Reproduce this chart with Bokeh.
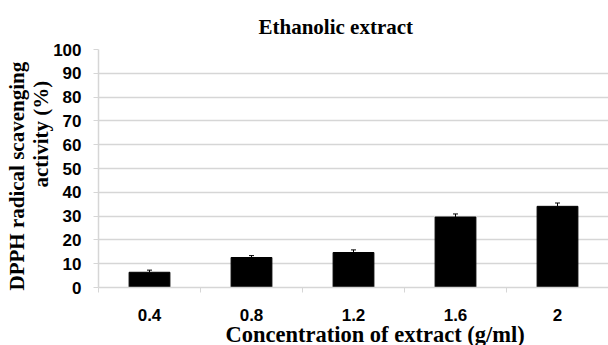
import numpy as np
from bokeh.plotting import figure
from bokeh.models import Range1d, FixedTicker, Whisker, TeeHead, ColumnDataSource, Title
from bokeh.embed import file_html
from bokeh.resources import INLINE

categories = ["0.4", "0.8", "1.2", "1.6", "2"]
activity = [6.4, 12.6, 14.7, 29.6, 34.1]
errors = [0.9, 0.8, 1.1, 1.3, 1.4]
y_ticks = list(range(0, 101, 10))

xpos = np.arange(len(categories)) + 0.5
upper = np.array(activity) + np.array(errors)

src = ColumnDataSource(dict(x=xpos, top=activity, upper=upper))

p = figure(width=608, height=345, output_backend="svg", toolbar_location=None,
           x_range=Range1d(0, len(categories)), y_range=Range1d(0, 100),
           min_border_left=98, min_border_right=0, min_border_top=49, min_border_bottom=58)
p.outline_line_color = None
p.background_fill_color = "white"

p.title.text = "Ethanolic extract"
p.title.align = "left"
p.title.offset = 160
p.title.text_color = "black"
p.title.text_font = "Liberation Serif"
p.title.text_font_style = "bold"
p.title.text_font_size = "21px"
p.title.standoff = 21

p.vbar(x="x", top="top", width=0.4, source=src, fill_color="black", line_color="black")
wh = Whisker(base="x", lower="top", upper="upper", source=src, line_color="black",
             line_width=1, lower_head=None,
             upper_head=TeeHead(size=5, line_color="black", line_width=1))
p.add_layout(wh)

p.xgrid.visible = False
p.ygrid.grid_line_color = "#d6d6d6"
p.ygrid.grid_line_width = 1.5

xa = p.xaxis[0]
xa.ticker = FixedTicker(ticks=list(xpos), minor_ticks=list(range(len(categories) + 1)))
xa.major_label_overrides = {float(x): c for x, c in zip(xpos, categories)}
xa.major_tick_line_color = None
xa.major_tick_out = 5
xa.major_tick_in = 0
xa.minor_tick_out = 5
xa.minor_tick_in = 0
xa.minor_tick_line_color = "#d6d6d6"
xa.axis_line_color = "#d6d6d6"
xa.axis_line_width = 1.5
xa.major_label_text_font = "Liberation Sans"
xa.major_label_text_font_style = "bold"
xa.major_label_text_font_size = "17px"
xa.major_label_text_color = "black"
xa.major_label_standoff = 16

ya = p.yaxis[0]
ya.ticker = FixedTicker(ticks=y_ticks, minor_ticks=[])
ya.major_tick_out = 5
ya.major_tick_in = 0
ya.major_tick_line_color = "#d6d6d6"
ya.axis_line_color = "#d6d6d6"
ya.axis_line_width = 1.5
ya.major_label_text_font = "Liberation Sans"
ya.major_label_text_font_style = "bold"
ya.major_label_text_font_size = "17px"
ya.major_label_text_color = "black"
ya.major_label_standoff = 12

serif = dict(text_font="Liberation Serif", text_font_style="bold", text_color="black")

p.add_layout(Title(text="Concentration of extract (g/ml)", align="left", offset=127,
                   standoff=-8, text_font_size="22.5px", **serif), "below")
p.add_layout(Title(text="activity (%)", align="left", offset=100,
                   standoff=-5, text_font_size="21px", **serif), "left")
p.add_layout(Title(text="DPPH radical scavenging", align="left", offset=-3,
                   standoff=2, text_font_size="21px", **serif), "left")

open("out.html", "w").write(file_html(p, INLINE))
